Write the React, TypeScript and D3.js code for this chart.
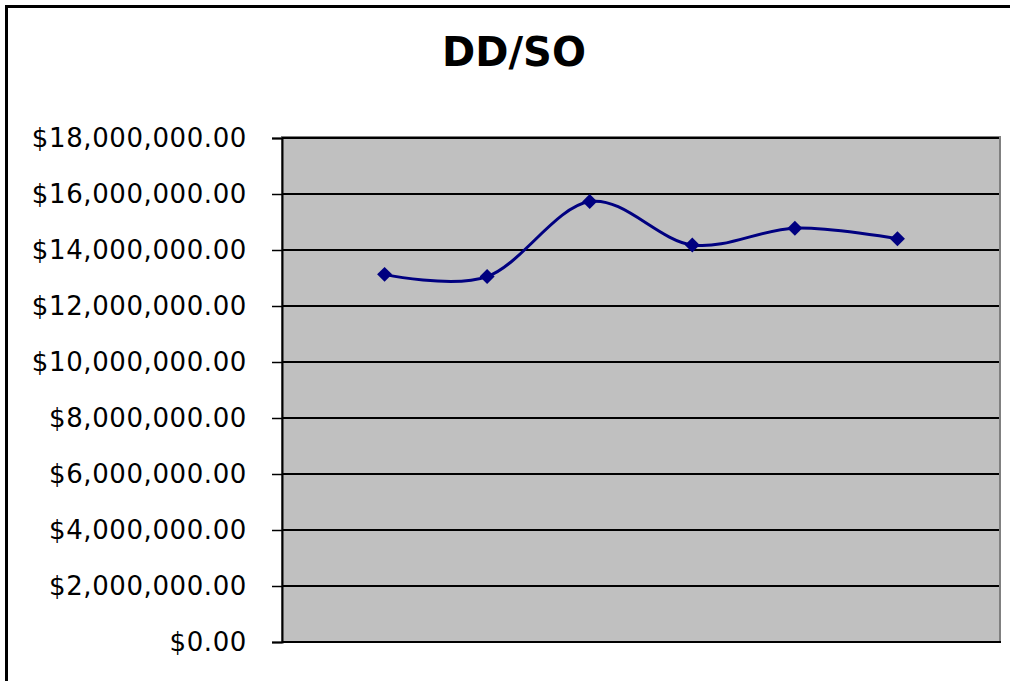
import React, { useEffect, useRef } from 'react';
import * as d3 from 'd3';

const categories: string[] = ['1', '2', '3', '4', '5', '6'];
const values: number[] = [13130000, 13050000, 15730000, 14180000, 14780000, 14400000];
const yTicks: number[] = [0, 2e6, 4e6, 6e6, 8e6, 10e6, 12e6, 14e6, 16e6, 18e6];
const title = 'DD/SO';

const App: React.FC = () => {
  const svgRef = useRef<SVGSVGElement>(null);

  useEffect(() => {
    if (!svgRef.current) return;
    const svg = d3.select(svgRef.current);
    svg.selectAll('*').remove();

    const plot = { left: 282, right: 1000, top: 138, bottom: 642 };
    const font = '"DejaVu Sans", Verdana, sans-serif';

    svg.append('rect')
      .attr('width', 1010).attr('height', 681)
      .attr('fill', '#fff');

    // outer chart border: only top and left edges fall inside the picture
    svg.append('path')
      .attr('d', 'M6.5,690 V6.5 H1010')
      .attr('fill', 'none')
      .attr('stroke', '#000')
      .attr('stroke-width', 3);

    svg.append('text')
      .attr('x', 514).attr('y', 66)
      .attr('text-anchor', 'middle')
      .style('font-family', font)
      .style('font-weight', 'bold')
      .style('font-size', '40px')
      .text(title);

    const x = d3.scalePoint<string>()
      .domain(categories)
      .range([plot.left, plot.right])
      .padding(1);

    const y = d3.scaleLinear()
      .domain([0, 18e6])
      .range([plot.bottom, plot.top]);

    // plot area
    svg.append('rect')
      .attr('x', plot.left).attr('y', plot.top - 1)
      .attr('width', plot.right - plot.left).attr('height', plot.bottom - plot.top + 1)
      .attr('fill', '#c0c0c0')
      .attr('stroke', '#808080')
      .attr('stroke-width', 2);

    svg.append('g')
      .selectAll('line')
      .data(yTicks.filter(d => d > 0))
      .enter().append('line')
      .attr('x1', plot.left).attr('x2', plot.right - 1)
      .attr('y1', d => y(d)).attr('y2', d => y(d))
      .attr('stroke', '#000')
      .attr('stroke-width', 2);

    const yAxis = d3.axisLeft(y)
      .tickValues(yTicks)
      .tickFormat(d3.format('$,.2f'))
      .tickSize(10)
      .tickPadding(25);

    const ga = svg.append('g')
      .attr('transform', `translate(${plot.left},0)`)
      .call(yAxis);
    ga.select('.domain').attr('stroke', '#000').attr('stroke-width', 2);
    ga.selectAll('.tick line').attr('stroke', '#000').attr('stroke-width', 1.5);
    ga.selectAll('.tick text')
      .attr('fill', '#000')
      .style('font-family', font)
      .style('font-size', '26px')
      .style('letter-spacing', '0.6px');

    svg.append('line')
      .attr('x1', plot.left).attr('x2', plot.right + 1)
      .attr('y1', plot.bottom).attr('y2', plot.bottom)
      .attr('stroke', '#000')
      .attr('stroke-width', 2);

    const line = d3.line<number>()
      .x((_, i) => x(categories[i]) as number)
      .y(d => y(d))
      .curve(d3.curveCardinal.tension(0));

    svg.append('path')
      .datum(values)
      .attr('d', line)
      .attr('fill', 'none')
      .attr('stroke', '#000080')
      .attr('stroke-width', 3);

    const diamond = d3.symbol().type(d3.symbolSquare).size(112);
    svg.append('g')
      .selectAll('path')
      .data(values)
      .enter().append('path')
      .attr('d', diamond)
      .attr('transform', (d, i) => `translate(${x(categories[i])},${y(d)}) rotate(45)`)
      .attr('fill', '#000080');
  }, []);

  return (
    <svg
      ref={svgRef}
      width={1010}
      height={681}
      style={{ position: 'fixed', left: 0, top: 0, display: 'block', overflow: 'hidden' }}
    />
  );
};

export default App;
